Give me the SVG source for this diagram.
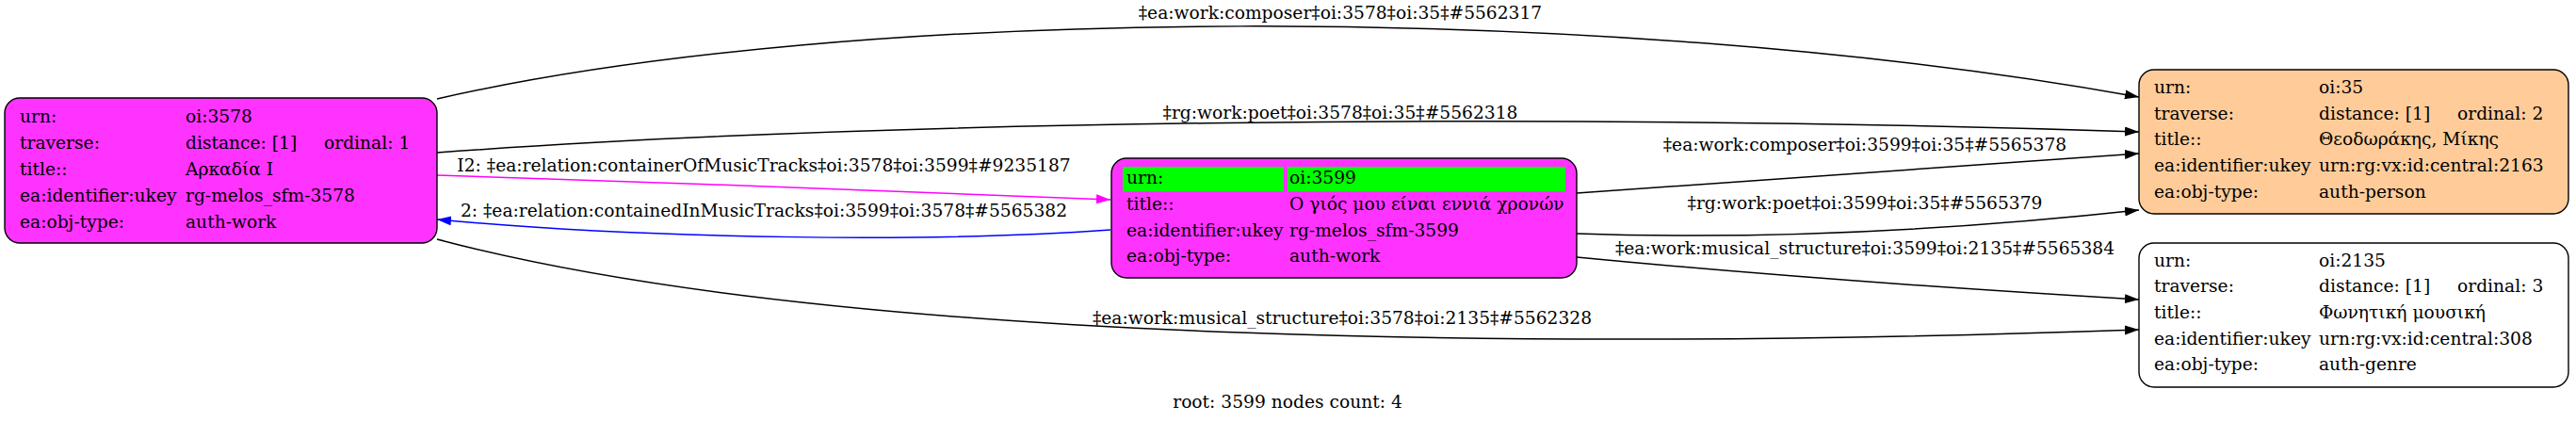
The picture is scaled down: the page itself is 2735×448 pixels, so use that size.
<svg xmlns="http://www.w3.org/2000/svg" width="2735" height="448" viewBox="0 0 2735 448">
<style>
text{font-family:"DejaVu Serif","Liberation Serif",serif;font-size:18.67px;fill:#000}
.lbl{text-anchor:middle}
.box{stroke:#000;stroke-width:1.4}
.e{fill:none;stroke:#000;stroke-width:1.5}
.mg{stroke:#ff00ff}
.bl{stroke:#0000ff}
</style>
<defs>
<marker id="ak" markerUnits="userSpaceOnUse" markerWidth="16" markerHeight="12" refX="15" refY="5" orient="auto"><path d="M0,0 L15,5 L0,10 z" fill="#000"/></marker>
<marker id="am" markerUnits="userSpaceOnUse" markerWidth="16" markerHeight="12" refX="15" refY="5" orient="auto"><path d="M0,0 L15,5 L0,10 z" fill="#ff00ff"/></marker>
<marker id="ab" markerUnits="userSpaceOnUse" markerWidth="16" markerHeight="12" refX="15" refY="5" orient="auto"><path d="M0,0 L15,5 L0,10 z" fill="#0000ff"/></marker>
</defs>
<rect width="2735" height="448" fill="#fff"/>
<g id="edges">
<path class="e" d="M464,105 C900,5 1700,0 2271,103" marker-end="url(#ak)"/>
<text class="lbl" x="1423" y="20">‡ea:work:composer‡oi:3578‡oi:35‡#5562317</text>
<path class="e" d="M464,162 C900,130 1600,118 2271,140" marker-end="url(#ak)"/>
<text class="lbl" x="1423" y="126">‡rg:work:poet‡oi:3578‡oi:35‡#5562318</text>
<path class="e mg" d="M464,186 C700,194 950,202 1179,212" marker-end="url(#am)"/>
<text class="lbl" x="811" y="182">I2: ‡ea:relation:containerOfMusicTracks‡oi:3578‡oi:3599‡#9235187</text>
<path class="e bl" d="M1179,244 C1000,257 700,255 464,233" marker-end="url(#ab)"/>
<text class="lbl" x="811" y="230">2: ‡ea:relation:containedInMusicTracks‡oi:3599‡oi:3578‡#5565382</text>
<path class="e" d="M464,254 C900,370 1700,370 2271,350" marker-end="url(#ak)"/>
<text class="lbl" x="1425" y="344">‡ea:work:musical_structure‡oi:3578‡oi:2135‡#5562328</text>
<path class="e" d="M1674,205 C1850,192 2050,177 2271,163" marker-end="url(#ak)"/>
<text class="lbl" x="1980" y="160">‡ea:work:composer‡oi:3599‡oi:35‡#5565378</text>
<path class="e" d="M1674,248 C1850,254 2050,247 2271,223" marker-end="url(#ak)"/>
<text class="lbl" x="1980" y="222">‡rg:work:poet‡oi:3599‡oi:35‡#5565379</text>
<path class="e" d="M1674,273 C1850,290 2050,305 2271,318" marker-end="url(#ak)"/>
<text class="lbl" x="1980" y="270">‡ea:work:musical_structure‡oi:3599‡oi:2135‡#5565384</text>
</g>
<g id="n3578">
<rect class="box" x="5" y="104" width="459" height="154" rx="16" fill="#ff33ff"/>
<text x="21" y="130">urn:</text><text x="197" y="130">oi:3578</text>
<text x="21" y="158">traverse:</text><text x="197" y="158">distance: [1]</text><text x="344" y="158">ordinal: 1</text>
<text x="21" y="186">title::</text><text x="197" y="186">Αρκαδία Ι</text>
<text x="21" y="214">ea:identifier:ukey</text><text x="197" y="214">rg-melos_sfm-3578</text>
<text x="21" y="242">ea:obj-type:</text><text x="197" y="242">auth-work</text>
</g>
<g id="n3599">
<rect class="box" x="1180" y="168" width="494" height="127" rx="16" fill="#ff33ff"/>
<rect x="1192" y="177" width="171" height="26" fill="#00ff00"/>
<rect x="1367" y="177" width="295" height="26" fill="#00ff00"/>
<text x="1196" y="195">urn:</text><text x="1369" y="195">oi:3599</text>
<text x="1196" y="223">title::</text><text x="1369" y="223">Ο γιός μου είναι εννιά χρονών</text>
<text x="1196" y="251">ea:identifier:ukey</text><text x="1369" y="251">rg-melos_sfm-3599</text>
<text x="1196" y="278">ea:obj-type:</text><text x="1369" y="278">auth-work</text>
</g>
<g id="n35">
<rect class="box" x="2271" y="74" width="456" height="153" rx="16" fill="#ffcc99"/>
<text x="2287" y="99">urn:</text><text x="2462" y="99">oi:35</text>
<text x="2287" y="127">traverse:</text><text x="2462" y="127">distance: [1]</text><text x="2609" y="127">ordinal: 2</text>
<text x="2287" y="154">title::</text><text x="2462" y="154">Θεοδωράκης, Μίκης</text>
<text x="2287" y="182">ea:identifier:ukey</text><text x="2462" y="182">urn:rg:vx:id:central:2163</text>
<text x="2287" y="210">ea:obj-type:</text><text x="2462" y="210">auth-person</text>
</g>
<g id="n2135">
<rect class="box" x="2271" y="258" width="456" height="153" rx="16" fill="#ffffff"/>
<text x="2287" y="283">urn:</text><text x="2462" y="283">oi:2135</text>
<text x="2287" y="310">traverse:</text><text x="2462" y="310">distance: [1]</text><text x="2609" y="310">ordinal: 3</text>
<text x="2287" y="338">title::</text><text x="2462" y="338">Φωνητική μουσική</text>
<text x="2287" y="366">ea:identifier:ukey</text><text x="2462" y="366">urn:rg:vx:id:central:308</text>
<text x="2287" y="393">ea:obj-type:</text><text x="2462" y="393">auth-genre</text>
</g>
<text class="lbl" x="1367" y="433">root: 3599 nodes count: 4</text>
</svg>
